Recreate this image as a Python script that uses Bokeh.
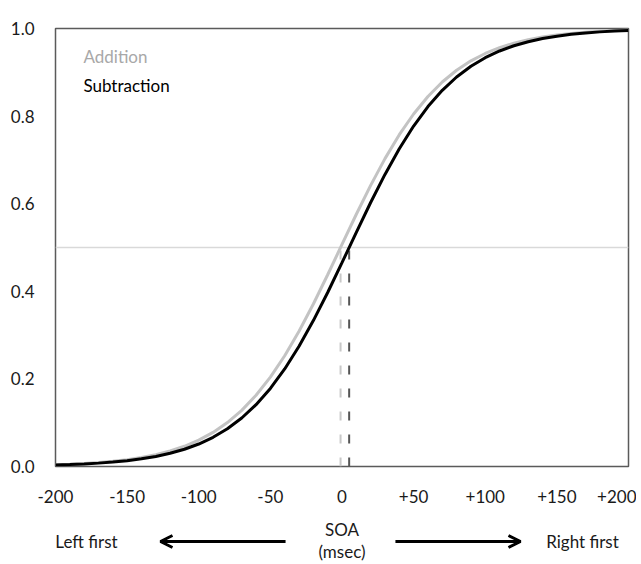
from bokeh.plotting import figure
from bokeh.models import Range1d, FixedTicker, Arrow, OpenHead, Label
from bokeh.layouts import column
from bokeh.core.properties import value
from bokeh.embed import file_html
from bokeh.resources import INLINE

# ---- data ----
soa = list(range(-200, 201, 10))
addition = [0.0040, 0.0052, 0.0069, 0.0091, 0.0119, 0.0157, 0.0206, 0.0270, 0.0354, 0.0462,
            0.0601, 0.0778, 0.1003, 0.1282, 0.1626, 0.2041, 0.2528, 0.3088, 0.3710, 0.4378,
            0.5069, 0.5759, 0.6418, 0.7029, 0.7575, 0.8048, 0.8448, 0.8779, 0.9047, 0.9261,
            0.9430, 0.9562, 0.9665, 0.9744, 0.9805, 0.9851, 0.9887, 0.9914, 0.9935, 0.9951,
            0.9963]
subtraction = [0.0034, 0.0044, 0.0058, 0.0077, 0.0101, 0.0133, 0.0175, 0.0230, 0.0301, 0.0394,
               0.0513, 0.0667, 0.0862, 0.1107, 0.1411, 0.1783, 0.2227, 0.2745, 0.3331, 0.3973,
               0.4653, 0.5347, 0.6027, 0.6669, 0.7255, 0.7773, 0.8217, 0.8589, 0.8893, 0.9138,
               0.9333, 0.9487, 0.9606, 0.9699, 0.9770, 0.9825, 0.9867, 0.9899, 0.9923, 0.9942,
               0.9956]
pse_values = [-1, 5]
pse_level = 0.5
series_names = ["Addition", "Subtraction"]
x_ticks = [-200, -150, -100, -50, 0, 50, 100, 150, 200]
x_tick_labels = ["-200", "-150", "-100", "-50", "0", "+50", "+100", "+150", "+200"]
y_ticks = [0.0, 0.2, 0.4, 0.6, 0.8, 1.0]
y_tick_labels = ["0.0", "0.2", "0.4", "0.6", "0.8", "1.0"]

FONT = "Lato"
FS = "17px"
BL, BR = 55, 8
FRAME_W = 573
W = BL + FRAME_W + BR

p = figure(width=W, height=506, output_backend="svg", toolbar_location=None,
           x_range=Range1d(-200, 200), y_range=Range1d(0, 1),
           min_border_left=BL, min_border_right=BR, min_border_top=28, min_border_bottom=40)
p.xgrid.visible = False
p.ygrid.visible = False
p.outline_line_color = "#5a5a5a"
p.outline_line_width = 1.5
p.background_fill_color = "white"
p.border_fill_color = "white"

for ax in (p.xaxis[0], p.yaxis[0]):
    ax.axis_line_color = None
    ax.major_tick_line_color = None
    ax.minor_tick_line_color = None
    ax.major_label_text_font = FONT
    ax.major_label_text_font_size = FS
    ax.major_label_text_color = "#1a1a1a"
p.xaxis[0].ticker = FixedTicker(ticks=x_ticks)
p.xaxis[0].major_label_overrides = {t: l for t, l in zip(x_ticks, x_tick_labels)}
p.xaxis[0].major_label_standoff = 17
p.yaxis[0].ticker = FixedTicker(ticks=y_ticks)
p.yaxis[0].major_label_overrides = {t: l for t, l in zip(y_ticks, y_tick_labels)}
p.yaxis[0].major_label_standoff = 15

# 50% reference line
p.line([-200, 200], [pse_level, pse_level], line_color="#d9d9d9", line_width=1.5)

# PSE dashed lines
p.segment(x0=[pse_values[0]], y0=[0], x1=[pse_values[0]], y1=[pse_level],
          line_color="#c8c8c8", line_width=2, line_dash="9 14")
p.segment(x0=[pse_values[1]], y0=[0], x1=[pse_values[1]], y1=[pse_level],
          line_color="#555555", line_width=2, line_dash="9 14")

# curves
p.line(soa, addition, line_color="#c3c3c3", line_width=3)
p.line(soa, subtraction, line_color="#000000", line_width=3)

# text legend
p.text(x=[-180.5, -180.5], y=[0.935, 0.869], text=series_names,
       text_color=["#a8a8a8", "#000000"], text_font=value(FONT),
       text_font_size=FS, text_align="left", text_baseline="middle")

# bottom strip with direction arrows (frame aligned with the main plot)
H2 = 56
p2 = figure(width=W, height=H2, output_backend="svg", toolbar_location=None,
            x_range=Range1d(-200, 200), y_range=Range1d(0, 1),
            x_axis_type=None, y_axis_type=None,
            min_border_left=BL, min_border_right=BR, min_border_top=0, min_border_bottom=0)
p2.xgrid.visible = False
p2.ygrid.visible = False
p2.outline_line_color = None

for tx, ty, tt in [(-178.4, 0.375, "Left first"), (167.9, 0.375, "Right first"),
                   (0, 0.589, "SOA"), (0, 0.196, "(msec)")]:
    p2.add_layout(Label(x=tx, y=ty, text=tt, text_color="#1a1a1a", text_font=FONT,
                        text_font_size=FS, text_align="center", text_baseline="middle"))

p2.add_layout(Arrow(end=OpenHead(size=12, line_width=3, line_color="#000000"),
                    x_start=-39.4, y_start=0.375, x_end=-126.7, y_end=0.375,
                    line_width=3, line_color="#000000"))
p2.add_layout(Arrow(end=OpenHead(size=12, line_width=3, line_color="#000000"),
                    x_start=37.3, y_start=0.375, x_end=124.6, y_end=0.375,
                    line_width=3, line_color="#000000"))

layout = column(p, p2, spacing=0)
open("out.html", "w").write(file_html(layout, INLINE))
